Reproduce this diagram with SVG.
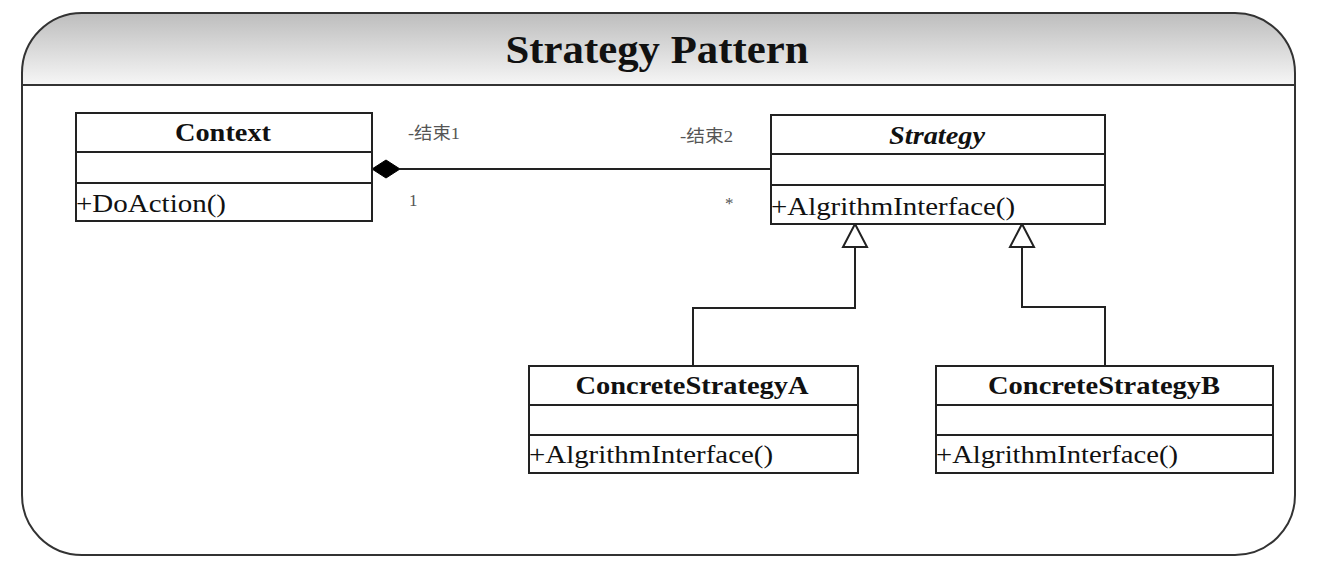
<svg xmlns="http://www.w3.org/2000/svg" width="1319" height="577" viewBox="0 0 1319 577">
<style>
.box{fill:#fff;stroke:#222;stroke-width:2}
.sep{stroke:#222;stroke-width:2}
.name{font-family:"Liberation Serif","Times New Roman",serif;font-weight:bold;font-size:25px;fill:#111;text-anchor:middle}
.op{font-family:"Liberation Serif","Times New Roman",serif;font-size:25px;fill:#111}
.lbl{font-family:"Liberation Serif","Noto Sans CJK SC",serif;font-size:17px;fill:#555}
.conn{fill:none;stroke:#222;stroke-width:2}
</style>
<defs>
<linearGradient id="hdr" x1="0" y1="0" x2="0" y2="1">
<stop offset="0" stop-color="#bdbdbd"/>
<stop offset="1" stop-color="#f6f6f6"/>
</linearGradient>
</defs>
<rect width="1319" height="577" fill="#fff"/>
<g id="frame">
<path d="M22,85 V73 A60,60 0 0 1 82,13 H1235 A60,60 0 0 1 1295,73 V85 Z" fill="url(#hdr)"/>
<path d="M82,13 H1235 A60,60 0 0 1 1295,73 V495 A60,60 0 0 1 1235,555 H82 A60,60 0 0 1 22,495 V73 A60,60 0 0 1 82,13 Z" fill="none" stroke="#333" stroke-width="2"/>
<line x1="22" y1="85" x2="1295" y2="85" stroke="#333" stroke-width="2"/>
<text x="657" y="63" font-family="Liberation Serif, Times New Roman, serif" font-weight="bold" font-size="40" fill="#111" text-anchor="middle" textLength="303" lengthAdjust="spacingAndGlyphs">Strategy Pattern</text>
</g>
<g id="connectors">
<line class="conn" x1="400" y1="169" x2="771" y2="169"/>
<polygon points="372,169 386,160 400,169 386,178" fill="#000" stroke="#000" stroke-width="1"/>
<polyline class="conn" points="855,247 855,308 693,308 693,366"/>
<polygon points="855,224 843,247 867,247" fill="#fff" stroke="#222" stroke-width="2"/>
<polyline class="conn" points="1022,247 1022,307 1105,307 1105,366"/>
<polygon points="1022,224 1010,247 1034,247" fill="#fff" stroke="#222" stroke-width="2"/>
<text class="lbl" x="408" y="139" textLength="52" lengthAdjust="spacingAndGlyphs">-结束1</text>
<text class="lbl" x="409" y="206">1</text>
<text class="lbl" x="680" y="142" textLength="53" lengthAdjust="spacingAndGlyphs">-结束2</text>
<text class="lbl" x="725" y="209">*</text>
</g>
<g id="context">
<rect class="box" x="76" y="113" width="296" height="108"/>
<line class="sep" x1="76" y1="152" x2="372" y2="152"/>
<line class="sep" x1="76" y1="183" x2="372" y2="183"/>
<text class="name" x="223" y="141" textLength="96" lengthAdjust="spacingAndGlyphs">Context</text>
<text class="op" x="76" y="212" textLength="150" lengthAdjust="spacingAndGlyphs">+DoAction()</text>
</g>
<g id="strategy">
<rect class="box" x="771" y="115" width="334" height="109"/>
<line class="sep" x1="771" y1="154" x2="1105" y2="154"/>
<line class="sep" x1="771" y1="185" x2="1105" y2="185"/>
<text class="name" x="937" y="144" font-style="italic" textLength="96" lengthAdjust="spacingAndGlyphs">Strategy</text>
<text class="op" x="771" y="215" textLength="244" lengthAdjust="spacingAndGlyphs">+AlgrithmInterface()</text>
</g>
<g id="concreteA">
<rect class="box" x="529" y="366" width="329" height="107"/>
<line class="sep" x1="529" y1="405" x2="858" y2="405"/>
<line class="sep" x1="529" y1="435" x2="858" y2="435"/>
<text class="name" x="692" y="394" textLength="233" lengthAdjust="spacingAndGlyphs">ConcreteStrategyA</text>
<text class="op" x="529" y="463" textLength="244" lengthAdjust="spacingAndGlyphs">+AlgrithmInterface()</text>
</g>
<g id="concreteB">
<rect class="box" x="936" y="366" width="337" height="107"/>
<line class="sep" x1="936" y1="405" x2="1273" y2="405"/>
<line class="sep" x1="936" y1="435" x2="1273" y2="435"/>
<text class="name" x="1104" y="394" textLength="232" lengthAdjust="spacingAndGlyphs">ConcreteStrategyB</text>
<text class="op" x="936" y="463" textLength="242" lengthAdjust="spacingAndGlyphs">+AlgrithmInterface()</text>
</g>
</svg>
